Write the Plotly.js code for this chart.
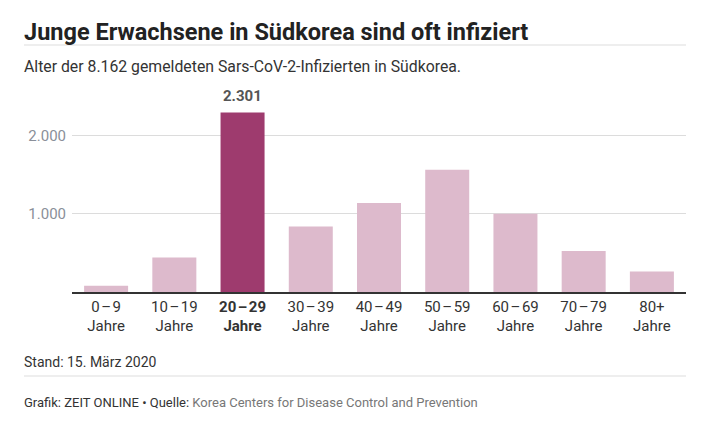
<!DOCTYPE html>
<html>
<head>
<meta charset="utf-8">
<script src="https://cdn.plot.ly/plotly-3.0.1.min.js"></script>
<style>
  html, body { margin: 0; padding: 0; background: #fff; }
  #chart { width: 704px; height: 429px; }
</style>
</head>
<body>
<div id="chart"></div>
<script>
// Altersgruppen und gemeldete Fälle (Stand 15.03.2020)
const ageGroups = ['0\u200A–\u200A9', '10\u200A–\u200A19', '20\u200A–\u200A29', '30\u200A–\u200A39', '40\u200A–\u200A49',
                   '50\u200A–\u200A59', '60\u200A–\u200A69', '70\u200A–\u200A79', '80+'];
const cases = [79, 443, 2301, 840, 1141, 1567, 1004, 525, 262];
const highlightGroup = '20\u200A–\u200A29';
const yTickVals = [1000, 2000];
const yTickText = ['1.000', '2.000'];

const FONT = 'Roboto, "Noto Sans", sans-serif';
const DARK = '#9e3b6e';
const LIGHT = '#ddbacc';

// pixel helpers -> paper coords (plot area: x 72..686, y 110..292)
const px = x => (x - 72) / 614;
const py = y => (292 - y) / 182;

const tickLabels = ageGroups.map(g =>
    g === highlightGroup ? `<b>${g}</b><br><b>Jahre</b>` : `${g}<br>Jahre`);

const trace = {
    type: 'bar',
    x: ageGroups,
    y: cases,
    marker: {color: ageGroups.map(g => g === highlightGroup ? DARK : LIGHT)},
    hoverinfo: 'none'
};

const peak = cases[ageGroups.indexOf(highlightGroup)];

const layout = {
    width: 704,
    height: 429,
    margin: {l: 72, r: 18, t: 110, b: 137},
    paper_bgcolor: '#fff',
    plot_bgcolor: '#fff',
    font: {family: FONT, color: '#333'},
    separators: ',.',
    bargap: 0.355,
    showlegend: false,
    xaxis: {
        type: 'category',
        tickvals: ageGroups,
        ticktext: tickLabels,
        showline: true,
        linecolor: '#333',
        linewidth: 1.5,
        ticks: '',
        tickfont: {size: 15, color: '#333'},
        fixedrange: true
    },
    yaxis: {
        range: [0, 2333],
        tickvals: yTickVals,
        ticktext: yTickText,
        showgrid: true,
        gridcolor: '#dcdcdc',
        zeroline: false,
        ticks: '',
        ticklabelstandoff: 5,
        tickfont: {size: 15, color: '#8a8f99'},
        fixedrange: true
    },
    shapes: [
        {type: 'line', xref: 'paper', yref: 'paper', x0: px(24), x1: px(686), y0: py(45), y1: py(45),
         line: {color: '#dddddd', width: 1}},
        {type: 'line', xref: 'paper', yref: 'paper', x0: px(24), x1: px(686), y0: py(376), y1: py(376),
         line: {color: '#dddddd', width: 1}}
    ],
    annotations: [
        {text: '<b>Junge Erwachsene in Südkorea sind oft infiziert</b>', xref: 'paper', yref: 'paper',
         x: px(22), y: py(32), xanchor: 'left', yanchor: 'middle', showarrow: false,
         font: {size: 23.5, color: '#222'}},
        {text: 'Alter der 8.162 gemeldeten Sars-CoV-2-Infizierten in Südkorea.', xref: 'paper', yref: 'paper',
         x: px(22), y: py(66), xanchor: 'left', yanchor: 'middle', showarrow: false,
         font: {size: 15.8, color: '#333'}},
        {text: '<b>' + peak.toLocaleString('de-DE') + '</b>', x: highlightGroup, y: peak,
         xanchor: 'center', yanchor: 'bottom', yshift: 6, showarrow: false,
         font: {size: 15, color: '#555'}},
        {text: 'Stand: 15. März 2020', xref: 'paper', yref: 'paper',
         x: px(22), y: py(362), xanchor: 'left', yanchor: 'middle', showarrow: false,
         font: {size: 14, color: '#333'}},
        {text: 'Grafik: ZEIT ONLINE • Quelle: <span style="color:#777">Korea Centers for Disease Control and Prevention</span>',
         xref: 'paper', yref: 'paper',
         x: px(22), y: py(402), xanchor: 'left', yanchor: 'middle', showarrow: false,
         font: {size: 13, color: '#333'}}
    ]
};

Plotly.newPlot('chart', [trace], layout, {displayModeBar: false, staticPlot: true});
</script>
</body>
</html>
